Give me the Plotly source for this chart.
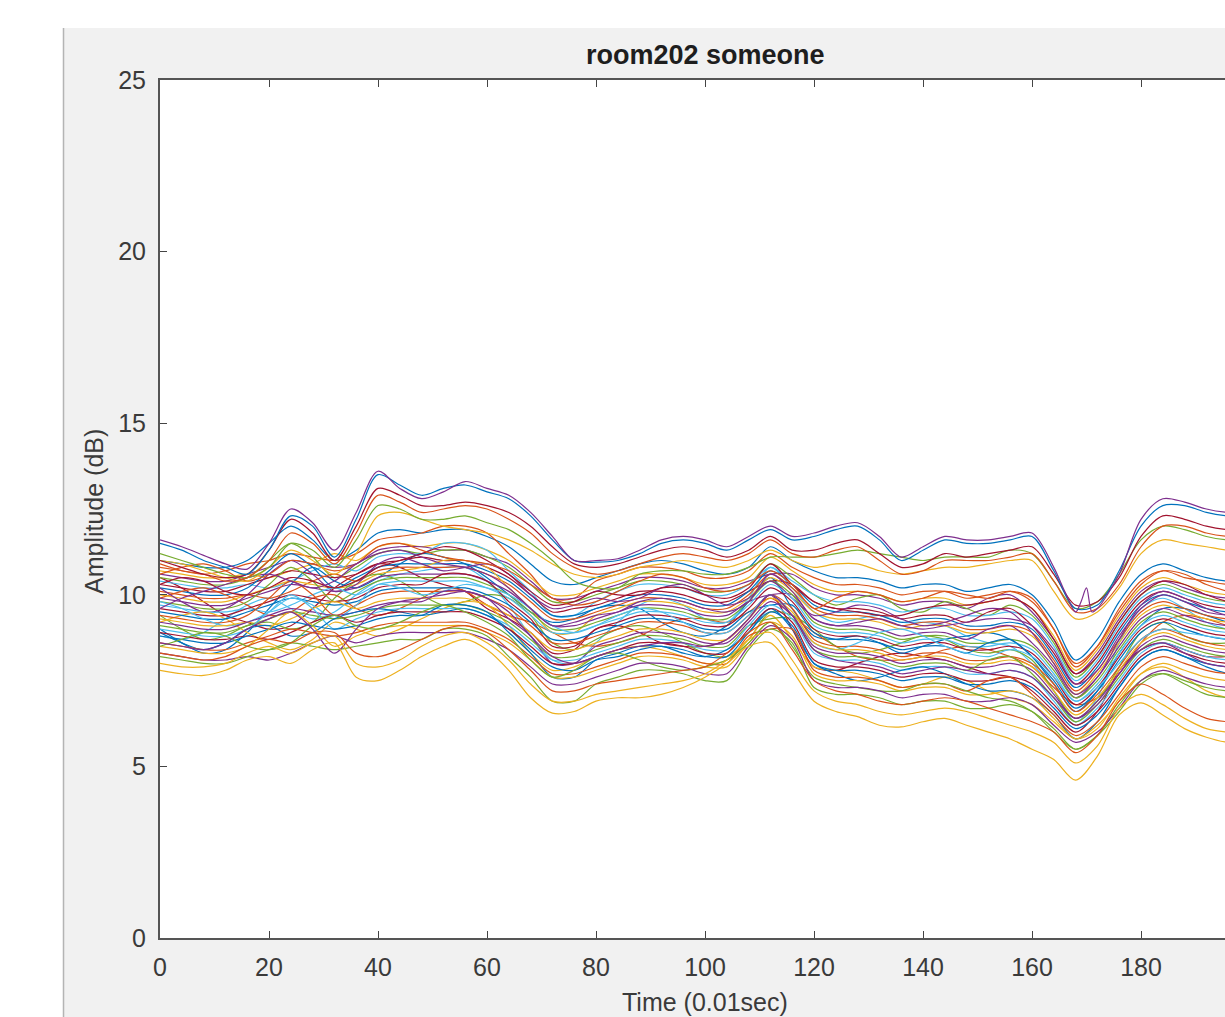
import plotly.graph_objects as go

# ---------------- data ----------------
time = list(range(0, 201, 4))  # 0.01 s units
time_purple = [0,4,8,12,16,20,24,28,32,36,40,44,48,52,56,60,64,68,72,76,80,84,88,92,96,100,
               104,108,112,116,120,124,128,132,136,140,144,148,152,156,160,164,166,168,169,170,
               171,172,176,180,184,188,192,196,200]

top_purple = [11.6,11.4,11.15,10.9,10.75,11.5,12.5,12.1,11.3,12.4, 13.6,13.1,12.8,13.0,13.3,13.1,12.9,12.4,11.7,11.0,
              11.0,11.05,11.3,11.6,11.7,11.6,11.4,11.7,12.0,11.7, 11.8,12.0,12.1,11.7,11.1,11.4,11.7,11.6,11.6,11.7,
              11.8,10.8,10.1,9.5,9.8,10.2,9.5,9.6,10.6,12.2,12.8,12.7,12.5,12.4,12.4]
top_blue = [11.5,11.3,11.0,10.8,10.6,11.3,12.3,12.0,11.1,12.2, 13.5,13.2,12.9,13.1,13.2,13.0,12.8,12.3,11.6,11.0,
            10.95,11.0,11.2,11.5,11.6,11.5,11.3,11.6,11.9,11.6, 11.7,11.9,12.0,11.6,11.0,11.3,11.6,11.5,11.5,11.6,
            11.7,10.7,9.6,9.7,10.7,12.0,12.6,12.6,12.4,12.3,12.3]
upper_red = [11.0,10.8,10.6,10.5,10.6,11.3,12.2,11.8,11.0,12.0, 13.1,12.9,12.6,12.6,12.7,12.6,12.4,12.0,11.4,10.9,
             10.8,10.9,11.1,11.3,11.4,11.3,11.1,11.3,11.7,11.3, 11.3,11.5,11.6,11.2,10.8,10.9,11.2,11.1,11.2,11.3,
             11.4,10.6,9.7,9.8,10.5,11.7,12.3,12.2,12.0,11.9,11.9]
upper_orange = [10.8,10.7,10.6,10.4,10.5,11.0,11.8,11.5,10.9,11.8, 12.9,12.7,12.4,12.5,12.6,12.5,12.2,11.8,11.2,10.8,
                10.6,10.7,10.9,11.1,11.2,11.1,11.0,11.2,11.6,11.2, 11.1,11.3,11.4,11.0,10.6,10.7,11.0,11.0,11.0,11.1,
                11.2,10.4,9.5,9.6,10.3,11.4,12.0,12.0,11.8,11.7,11.7]
upper_green = [11.2,11.0,10.8,10.6,10.5,10.8,11.5,11.3,10.8,11.6, 12.6,12.5,12.2,12.2,12.3,12.1,11.9,11.5,11.0,10.4,
               10.2,10.2,10.6,10.7,10.7,10.6,10.6,10.8,11.1,11.1, 11.1,11.2,11.3,11.2,11.1,11.0,11.1,11.1,11.1,11.3,
               11.2,10.4,9.6,9.8,10.6,11.6,12.0,11.9,11.7,11.6,11.6]
upper_yellow = [11.0,10.9,10.7,10.5,10.4,10.8,11.3,11.0,10.6,11.2, 12.3,12.4,12.2,12.0,11.9,11.8,11.6,11.3,10.9,10.6,
                10.5,10.6,10.8,10.9,11.0,10.9,10.8,11.0,11.3,11.0, 10.8,10.9,10.9,10.7,10.6,10.7,10.8,10.8,10.9,11.0,
                11.0,10.1,9.3,9.5,10.2,11.2,11.6,11.5,11.4,11.3,11.3]
low_yellow_1 = [7.8,7.7,7.65,7.8,8.1,8.2,8.0,8.4,8.6,7.6, 7.5,7.8,8.2,8.5,8.7,8.4,7.8,7.0,6.55,6.6,
                6.9,7.0,7.0,7.1,7.3,7.6,8.0,8.5,8.6,7.8, 6.9,6.6,6.45,6.2,6.15,6.3,6.4,6.2,6.0,5.8,
                5.5,5.2,4.6,5.3,6.5,6.85,6.5,6.1,5.85,5.7,5.7]
low_yellow_2 = [8.0,7.9,7.9,8.0,8.3,8.5,8.3,8.6,8.8,8.0, 7.9,8.1,8.5,8.8,8.9,8.6,8.1,7.4,6.9,6.9,
                7.1,7.2,7.3,7.4,7.5,7.7,8.1,8.7,8.9,8.1, 7.2,6.9,6.8,6.6,6.5,6.6,6.7,6.6,6.4,6.2,
                6.0,5.7,5.1,5.6,6.7,7.1,6.8,6.4,6.1,6.0,6.0]
low_orange = [8.3,8.2,8.1,8.2,8.5,8.7,8.6,8.9,8.9,8.3, 8.2,8.4,8.7,9.0,9.1,8.9,8.4,7.8,7.2,7.2,
              7.4,7.5,7.6,7.7,7.8,7.9,8.3,8.9,9.2,8.4, 7.5,7.2,7.1,6.9,6.8,6.9,7.0,6.9,6.7,6.5,
              6.3,6.0,5.4,5.9,6.9,7.4,7.1,6.7,6.4,6.3,6.3]
dip_purple = [8.6,8.5,8.4,8.6,9.0,9.3,9.5,9.0,8.3,9.0, 9.6,9.8,9.9,10.0,10.1,9.9,9.5,8.8,8.2,8.0,
              8.2,8.4,8.5,8.6,8.6,8.5,8.7,9.3,10.0,9.4, 8.4,8.1,8.0,7.9,7.7,7.8,7.9,7.8,7.7,7.8,
              7.6,7.0,6.4,6.8,7.7,8.4,8.6,8.3,8.0,7.9,7.9]

b01 = [11.0,10.9,10.8,10.8,11.0,11.5,12.0,11.6,11.0,11.3, 11.8,11.9,11.8,11.9,11.9,11.7,11.4,10.9,10.4,10.3, 10.5,10.7,10.9,11.0,10.9,10.7,10.6,10.8,11.4,11.0, 10.7,10.5,10.5,10.4,10.2,10.3,10.3,10.1,10.2,10.3, 10.0,9.2,8.1,8.7,9.8,10.6,10.9,10.7,10.5,10.4,10.4]
b02 = [10.9,10.7,10.6,10.7,10.9,11.0,11.2,11.1,11.0,11.2, 11.6,11.7,11.8,12.0,12.0,11.8,11.2,10.6,9.9,9.9, 10.4,10.6,10.8,10.8,10.7,10.5,10.5,10.7,11.2,10.8, 10.5,10.3,10.3,10.2,10.0,10.1,10.1,9.9,10.0,10.1, 9.8,9.0,7.9,8.5,9.6,10.4,10.7,10.5,10.4,10.3,10.3]
b03 = [10.7,10.6,10.5,10.5,10.6,10.5,10.7,10.9,11.2,11.0, 11.4,11.5,11.4,11.5,11.5,11.3,11.0,10.5,10.0,10.0, 10.2,10.4,10.6,10.6,10.5,10.3,10.3,10.5,11.1,10.7, 10.3,10.1,10.1,10.0,9.8,9.9,9.9,9.7,9.8,9.9, 9.6,8.8,7.8,8.4,9.4,10.2,10.5,10.3,10.1,10.0,10.0]
b04 = [10.6,10.5,10.4,10.4,10.6,10.8,11.0,10.9,10.8,10.9, 11.3,11.4,11.4,11.3,11.3,11.1,10.9,10.4,9.9,9.9, 10.1,10.3,10.5,10.5,10.4,10.2,10.2,10.4,10.6,10.6, 10.2,10.0,10.0,9.9,9.7,9.8,9.8,9.6,9.9,10.0, 9.5,8.7,7.7,8.3,9.3,10.1,10.4,10.2,10.0,9.9,9.9]
b05 = [10.5,10.4,10.3,10.3,10.5,11.0,11.5,11.1,10.5,10.8, 11.2,11.3,11.2,11.3,11.3,11.1,10.8,10.3,9.8,9.8, 10.0,10.2,10.4,10.4,10.3,10.1,10.1,10.3,10.9,10.5, 10.0,9.7,9.9,10.0,9.6,9.5,9.8,9.6,9.4,9.7, 9.4,8.6,7.6,8.2,9.2,10.0,10.3,10.1,9.9,9.8,9.8]
b06 = [10.4,10.3,10.2,10.2,10.3,10.2,10.4,10.7,10.9,10.7, 11.1,11.2,11.2,11.5,11.5,11.3,10.7,10.1,9.4,9.4, 9.8,10.1,10.3,10.3,10.2,10.0,10.0,10.3,10.8,10.4, 10.0,9.8,9.8,9.7,9.5,9.6,9.6,9.4,9.4,9.5, 9.3,8.5,7.5,8.1,9.1,9.9,10.2,10.0,9.8,9.7,9.7]
b07 = [10.3,10.2,10.1,10.1,10.3,10.5,10.7,10.6,10.5,10.6, 10.9,11.0,11.1,11.0,11.0,10.8,10.5,10.0,9.5,9.6, 9.7,9.9,10.1,10.1,10.0,9.8,9.8,10.1,10.4,10.3, 9.8,9.6,9.6,9.5,9.3,9.4,9.4,9.2,9.5,9.6, 9.1,8.3,7.4,8.0,9.0,9.8,10.1,9.9,9.7,9.6,9.6]
b08 = [10.2,10.1,10.0,10.0,10.2,10.7,11.2,10.8,10.2,10.5, 10.8,10.9,10.9,10.9,10.9,10.7,10.4,9.9,9.4,9.4, 9.6,9.8,10.0,10.0,9.9,9.7,9.7,10.1,10.7,10.3, 9.7,9.5,9.5,9.4,9.2,9.3,9.3,9.1,9.1,9.2, 9.0,8.2,7.3,7.9,8.9,9.7,10.0,9.8,9.6,9.5,9.5]
b09 = [10.1,10.0,9.9,9.9,10.0,9.9,10.1,10.4,10.6,10.4, 10.7,10.8,10.8,10.8,10.8,10.6,10.3,9.8,9.3,9.3, 9.5,9.7,9.9,9.9,9.8,9.6,9.6,10.0,10.6,10.2, 9.6,9.4,9.4,9.3,9.1,9.2,9.2,9.0,9.0,9.1, 8.9,8.1,7.2,7.8,8.7,9.5,9.8,9.6,9.4,9.3,9.3]
b10 = [10.0,9.9,9.8,9.8,10.0,10.2,10.4,10.3,10.2,10.3, 10.6,10.7,10.8,11.0,11.0,10.8,10.2,9.6,8.9,8.9, 9.4,9.6,9.8,9.8,9.7,9.5,9.5,9.9,10.5,10.1, 9.5,9.3,9.3,9.2,9.0,9.1,9.1,8.9,8.9,9.0, 8.8,8.0,7.1,7.7,8.6,9.4,9.7,9.5,9.3,9.2,9.2]
b11 = [9.9,9.8,9.7,9.7,9.9,10.1,10.3,10.2,10.1,10.2, 10.5,10.6,10.6,10.6,10.6,10.4,10.1,9.6,9.1,9.1, 9.3,9.5,9.7,9.7,9.6,9.4,9.4,9.8,10.0,10.0, 9.3,9.1,9.1,9.0,8.8,8.9,8.9,8.7,9.0,9.1, 8.6,7.9,7.0,7.6,8.5,9.3,9.6,9.4,9.2,9.1,9.1]
b12 = [9.8,9.7,9.6,9.6,9.8,10.3,10.8,10.4,9.8,10.1, 10.4,10.5,10.5,10.5,10.5,10.3,10.0,9.5,9.0,9.0, 9.2,9.4,9.6,9.6,9.5,9.3,9.3,9.8,10.4,10.0, 9.2,9.0,9.0,8.9,8.7,8.8,8.8,8.6,8.6,8.7, 8.5,7.8,7.0,7.5,8.4,9.2,9.5,9.3,9.1,9.0,9.0]
b13 = [9.7,9.6,9.5,9.5,9.6,9.5,9.7,10.0,10.2,10.0, 10.3,10.4,10.4,10.4,10.4,10.2,9.9,9.4,8.9,8.9, 9.1,9.3,9.5,9.5,9.4,9.2,9.2,9.7,10.3,9.9, 9.1,8.9,8.9,8.8,8.6,8.7,8.7,8.5,8.5,8.6, 8.4,7.7,6.9,7.4,8.3,9.1,9.4,9.2,9.0,8.9,8.9]
b14 = [9.6,9.5,9.4,9.4,9.6,9.8,10.0,9.9,9.8,9.9, 10.2,10.3,10.3,10.6,10.6,10.4,9.8,9.3,8.5,8.5, 9.0,9.2,9.4,9.4,9.3,9.1,9.1,9.6,10.2,9.8, 9.0,8.8,8.8,8.7,8.5,8.6,8.6,8.4,8.4,8.5, 8.3,7.6,6.8,7.3,8.2,9.0,9.3,9.1,8.9,8.8,8.8]
b15 = [9.5,9.4,9.3,9.3,9.5,9.7,9.9,9.8,9.7,9.8, 10.1,10.2,10.2,10.2,10.2,10.0,9.7,9.2,8.7,8.7, 8.9,9.1,9.3,9.3,9.2,9.0,9.0,9.5,9.7,9.7, 8.9,8.7,8.7,8.6,8.4,8.5,8.5,8.3,8.6,8.7, 8.2,7.5,6.7,7.2,8.1,8.9,9.2,9.0,8.8,8.7,8.7]
b16 = [9.4,9.3,9.2,9.2,9.4,9.9,10.4,10.0,9.4,9.7, 10.0,10.1,10.1,10.1,10.1,9.9,9.6,9.1,8.6,8.6, 8.8,9.0,9.2,9.2,9.1,8.9,8.9,9.4,10.0,9.6, 8.7,8.5,8.5,8.4,8.2,8.3,8.3,8.1,8.1,8.2, 8.0,7.4,6.6,7.1,7.9,8.7,9.0,8.8,8.6,8.5,8.5]
b17 = [9.3,9.2,9.1,9.1,9.2,9.1,9.3,9.6,9.8,9.6, 9.8,9.9,9.9,9.9,9.9,9.7,9.4,8.9,8.4,8.4, 8.6,8.8,9.0,9.0,8.9,8.7,8.7,9.3,9.9,9.5, 8.6,8.4,8.4,8.3,8.1,8.2,8.2,8.0,8.0,8.1, 7.9,7.2,6.5,7.0,7.8,8.6,8.9,8.7,8.5,8.4,8.4]
b18 = [9.2,9.1,9.0,9.0,9.2,9.4,9.6,9.5,9.4,9.5, 9.7,9.8,9.8,10.1,10.1,9.9,9.3,8.8,8.0,8.0, 8.5,8.7,8.9,8.9,8.8,8.6,8.6,9.2,9.8,9.4, 8.5,8.3,8.3,8.2,8.0,8.1,8.1,7.9,7.9,8.0, 7.8,7.1,6.4,6.9,7.7,8.5,8.8,8.6,8.4,8.3,8.3]
b19 = [9.1,9.0,8.9,8.9,9.1,9.3,9.5,9.4,9.3,9.4, 9.6,9.7,9.7,9.7,9.7,9.5,9.2,8.7,8.2,8.2, 8.4,8.6,8.8,8.8,8.7,8.5,8.5,9.1,9.3,9.3, 8.4,8.2,8.2,8.1,7.9,8.0,8.0,7.8,8.1,8.2, 7.7,7.0,6.3,6.8,7.6,8.4,8.7,8.5,8.3,8.2,8.2]
b20 = [9.0,8.9,8.8,8.8,9.0,9.5,10.0,9.6,9.0,9.3, 9.5,9.6,9.6,9.6,9.6,9.4,9.1,8.6,8.1,8.1, 8.3,8.5,8.7,8.7,8.6,8.4,8.4,9.1,9.7,9.3, 8.3,8.1,8.1,8.0,7.8,7.9,7.9,7.7,7.7,7.8, 7.6,6.9,6.2,6.7,7.5,8.3,8.6,8.4,8.2,8.1,8.1]
b21 = [8.9,8.8,8.7,8.7,8.8,8.7,8.9,9.2,9.4,9.2, 9.4,9.5,9.5,9.5,9.5,9.3,9.0,8.5,8.0,8.0, 8.2,8.4,8.6,8.6,8.5,8.3,8.3,9.0,9.6,9.2, 8.1,7.9,7.9,7.8,7.6,7.7,7.7,7.5,7.5,7.6, 7.4,6.8,6.2,6.6,7.4,8.2,8.5,8.3,8.1,8.0,8.0]
b22 = [8.8,8.7,8.6,8.6,8.8,9.0,9.2,9.1,9.0,9.1, 9.3,9.4,9.4,9.7,9.7,9.5,8.9,8.3,7.6,7.6, 8.1,8.3,8.5,8.5,8.4,8.2,8.2,8.9,9.5,9.1, 8.0,7.8,7.8,7.7,7.5,7.6,7.6,7.4,7.4,7.5, 7.3,6.7,6.1,6.5,7.3,8.1,8.4,8.2,8.0,7.9,7.9]
b23 = [8.6,8.5,8.4,8.4,8.6,8.8,9.0,8.9,8.8,8.9, 9.1,9.2,9.2,9.2,9.2,9.0,8.7,8.2,7.7,7.7, 7.9,8.1,8.3,8.3,8.2,8.0,8.0,8.8,9.0,9.0, 7.8,7.6,7.6,7.5,7.3,7.4,7.4,7.2,7.5,7.6, 7.1,6.5,5.9,6.3,7.1,7.9,8.2,8.0,7.8,7.7,7.7]
b24 = [8.5,8.4,8.3,8.3,8.5,9.0,9.5,9.1,8.5,8.8, 9.0,9.1,9.1,9.1,9.1,8.9,8.6,8.1,7.6,7.6, 7.8,8.0,8.2,8.2,8.1,7.9,7.9,8.6,9.2,8.8, 7.7,7.5,7.5,7.4,7.2,7.3,7.3,7.1,7.1,7.2, 7.0,6.4,5.8,6.2,6.9,7.7,8.0,7.8,7.6,7.5,7.5]
b25 = [8.3,8.2,8.1,8.1,8.2,8.1,8.3,8.6,8.8,8.6, 8.8,8.9,8.9,8.9,8.9,8.7,8.4,7.9,7.4,7.4, 7.6,7.8,8.0,8.0,7.9,7.7,7.7,8.5,9.1,8.7, 7.5,7.3,7.3,7.2,7.0,7.1,7.1,6.9,6.9,7.0, 6.8,6.2,5.7,6.0,6.7,7.5,7.8,7.6,7.4,7.3,7.3]
b26 = [8.2,8.1,8.0,8.0,8.2,8.4,8.6,8.5,8.4,8.5, 8.6,8.7,8.7,9.0,9.0,8.8,8.2,7.6,6.9,6.9, 7.4,7.6,7.8,7.8,7.7,7.5,7.5,8.4,9.0,8.6, 7.3,7.1,7.1,7.0,6.8,6.9,6.9,6.7,6.7,6.8, 6.6,6.1,5.5,5.9,6.6,7.4,7.7,7.5,7.3,7.2,7.2]

x01 = [8.8,8.7,8.9,9.3,9.7,9.9,9.6,9.3,9.5,10.0, 10.4,10.6,10.7,10.8,10.8,10.4,9.7,8.8,8.1,8.0, 8.6,9.2,9.7,9.9,9.7,9.3,9.2,9.9,10.8,10.2, 9.5,9.2,9.3,9.4,9.2,9.2,9.1,8.8,8.6,8.5, 8.0,7.2,6.3,7.0,8.6,9.6,9.9,9.6,9.2,9.0,9.0]
x02 = [10.5,10.2,9.8,9.4,9.2,9.0,9.1,9.6,10.2,10.6, 10.9,10.8,10.5,10.3,10.1,9.6,9.3,8.9,8.3,8.4, 9.0,9.1,8.9,8.6,8.5,8.5,8.7,9.3,10.0,9.0, 7.9,7.8,8.0,8.2,8.3,8.2,8.1,7.9,7.7,7.6, 7.2,6.6,6.0,6.6,7.8,8.4,8.6,8.4,8.2,8.2,8.2]
x03 = [9.0,8.6,8.3,8.4,8.9,9.6,10.3,10.8,10.4,10.2, 10.5,10.9,11.2,11.1,10.9,10.5,10.0,9.5,9.2,9.3, 9.6,9.7,9.6,9.2,8.9,8.8,9.1,9.8,10.5,9.6, 8.8,8.7,8.8,8.6,8.3,8.5,8.7,8.8,8.9,8.7, 8.2,7.4,6.6,7.2,8.3,9.1,9.6,9.6,9.4,9.2,9.1]
x04 = [9.9,10.1,10.2,10.0,9.7,9.4,9.5,9.9,10.0,9.6, 9.4,9.6,9.9,10.2,10.1,9.7,9.4,9.2,8.9,8.6, 8.5,8.6,8.8,9.1,9.3,9.3,9.2,9.5,9.9,9.4, 8.9,8.5,8.2,8.1,8.1,8.2,8.4,8.5,8.4,8.2, 7.9,7.3,6.8,7.0,7.7,8.6,9.2,9.4,9.3,9.1,9.0]
x05 = [9.4,9.0,8.7,8.8,9.1,9.2,9.0,9.2,9.9,10.4, 10.6,10.4,10.0,9.7,9.8,10.0,9.9,9.4,8.6,8.4, 8.7,9.0,9.1,8.9,8.6,8.3,8.2,8.7,9.5,9.4, 9.0,8.5,8.3,8.4,8.6,8.8,8.7,8.4,8.3,8.4, 8.1,7.2,6.4,6.9,7.9,8.9,9.2,8.8,8.6,8.6,8.7]
x06 = [10.2,9.8,9.5,9.6,10.0,10.6,11.0,10.6,10.1,10.3, 10.9,11.1,10.9,10.7,10.8,10.9,10.6,10.0,9.6,9.7, 9.9,9.8,9.9,10.2,10.3,10.0,9.7,9.9,10.4,9.9, 9.4,9.5,9.7,9.6,9.3,9.1,9.2,9.4,9.6,9.5, 8.9,8.0,7.1,7.6,8.7,9.7,10.1,9.9,9.6,9.4,9.4]
x07 = [9.2,9.4,9.5,9.3,8.9,8.6,8.4,8.7,9.2,9.0, 8.8,9.0,9.3,9.6,9.8,9.7,9.1,8.3,7.8,7.9, 8.2,8.4,8.5,8.4,8.2,8.0,8.1,8.7,9.4,8.7, 7.9,7.8,7.7,7.5,7.3,7.4,7.6,7.5,7.2,7.0, 6.8,6.3,5.8,6.1,7.0,7.7,7.9,7.6,7.2,7.0,7.0]
x08 = [9.8,9.6,9.3,9.1,9.2,9.5,9.9,9.7,9.3,9.7, 10.3,10.2,10.0,10.1,10.3,10.2,10.0,9.6,9.1,8.9, 9.1,9.4,9.6,9.5,9.2,8.9,8.9,9.4,10.0,9.4, 8.6,8.4,8.6,8.9,9.0,8.8,8.5,8.3,8.2,8.4, 8.2,7.6,6.9,7.3,8.0,8.7,9.0,8.9,8.8,8.7,8.6]
x09 = [10.3,10.5,10.4,10.1,10.0,10.2,10.5,10.4,10.2,10.4, 10.8,11.0,11.2,11.4,11.3,11.0,10.6,10.1,9.7,9.8, 10.1,10.0,10.0,10.2,10.2,10.0,9.9,10.2,10.9,10.3, 9.8,9.6,9.5,9.4,9.4,9.6,9.7,9.7,9.8,9.9, 9.6,8.7,7.7,8.2,9.2,10.0,10.4,10.3,10.0,9.8,9.7]
x10 = [8.9,8.6,8.4,8.6,9.0,9.1,8.8,8.9,9.3,9.5, 9.6,9.5,9.4,9.5,9.6,9.4,9.0,8.4,7.9,7.8, 8.1,8.2,8.4,8.5,8.3,8.2,8.4,8.9,9.6,9.0, 8.0,7.7,7.5,7.6,7.8,7.9,7.7,7.4,7.2,7.2, 7.0,6.5,5.8,6.3,7.3,8.1,8.4,8.2,7.9,7.7,7.6]
x11 = [10.6,10.8,10.9,10.7,10.4,10.6,11.0,10.9,10.7,10.9, 11.4,11.5,11.3,11.1,11.0,10.9,10.7,10.3,9.9,9.7, 9.8,10.1,10.4,10.6,10.5,10.2,10.1,10.3,10.7,10.3, 9.6,9.9,10.1,10.0,9.8,9.9,10.1,10.0,9.9,10.1, 9.9,9.0,8.0,8.5,9.5,10.3,10.7,10.6,10.3,10.1,10.0]
x12 = [8.5,8.7,8.9,8.8,8.5,8.4,8.6,9.1,9.4,9.1, 9.0,9.2,9.5,9.7,9.5,9.2,8.8,8.1,7.6,7.8, 8.2,8.3,8.1,7.9,7.8,7.9,8.1,8.6,9.2,8.5, 7.6,7.4,7.3,7.2,7.2,7.4,7.4,7.2,7.0,6.9, 6.6,6.0,5.5,5.9,6.8,7.5,7.7,7.4,7.1,7.0,6.9]
x13 = [9.6,9.9,10.1,10.3,10.5,10.6,10.4,10.2,10.4,10.9, 11.2,11.3,11.1,10.9,10.8,10.6,10.2,9.6,9.1,9.2, 9.4,9.5,9.8,9.9,9.8,9.6,9.5,9.8,10.6,10.1, 9.3,9.1,9.2,9.3,9.1,9.0,9.1,9.2,9.3,9.3, 9.1,8.4,7.4,7.8,8.8,9.6,10.0,9.8,9.5,9.4,9.3]
x14 = [10.1,9.9,9.6,9.5,9.7,10.1,10.3,10.1,9.7,9.9, 10.1,10.0,9.8,9.8,10.0,10.0,9.6,9.0,8.6,8.6, 8.8,8.9,9.1,9.2,9.0,8.7,8.6,9.2,9.9,9.3, 8.4,8.1,8.0,8.1,8.0,7.9,8.0,7.9,7.8,7.9, 7.7,7.0,6.3,6.8,7.8,8.5,8.8,8.6,8.4,8.3,8.2]

x_ticks = [0, 20, 40, 60, 80, 100, 120, 140, 160, 180]
y_ticks = [0, 5, 10, 15, 20, 25]

# ---------------- styling ----------------
BLUE, ORANGE, YELLOW, PURPLE, GREEN, CYAN, RED = (
    "#0072BD", "#D95319", "#EDB120", "#7E2F8E", "#77AC30", "#4DBEEE", "#A2142F")
cycle = [BLUE, ORANGE, YELLOW, PURPLE, GREEN, CYAN, RED]

bulk = [b01, b02, b03, b04, b05, b06, b07, b08, b09, b10, b11, b12, b13,
        b14, b15, b16, b17, b18, b19, b20, b21, b22, b23, b24, b25, b26]
extra = [(x01, CYAN), (x02, RED), (x03, BLUE), (x04, ORANGE), (x05, GREEN),
         (x06, PURPLE), (x07, YELLOW), (x08, CYAN), (x09, RED), (x10, BLUE),
         (x11, ORANGE), (x12, GREEN), (x13, PURPLE), (x14, YELLOW)]

series = []
for i, v in enumerate(bulk):
    series.append((time, v, cycle[i % 7]))
    if i % 2 == 1 and i // 2 < len(extra):
        ev, ec = extra[i // 2]
        series.append((time, ev, ec))
series += [(time, dip_purple, PURPLE), (time, low_orange, ORANGE), (time, low_yellow_2, YELLOW),
           (time, low_yellow_1, YELLOW), (time, upper_yellow, YELLOW), (time, upper_green, GREEN),
           (time, upper_orange, ORANGE), (time, upper_red, RED), (time, top_blue, BLUE),
           (time_purple, top_purple, PURPLE)]

fig = go.Figure()
for xs, vals, col in series:
    fig.add_trace(go.Scatter(x=xs, y=vals, mode="lines",
                             line=dict(color=col, width=1.2, shape="spline", smoothing=0.9),
                             hoverinfo="skip", showlegend=False))

W, H = 1225, 1017
PL, PR, PT, PB = 160, 1225, 80, 938   # plot area in pixels
pw, ph = PR - PL, PB - PT

def fx(px):
    return (px - PL) / pw

def fy(py):
    return (PB - py) / ph

FONT = "Liberation Sans, Arial, Helvetica, sans-serif"
AX = "#555555"

fig.update_layout(
    width=W, height=H,
    margin=dict(l=PL, r=W - PR, t=PT, b=H - PB, pad=0),
    paper_bgcolor="#f1f1f1", plot_bgcolor="#ffffff",
    showlegend=False,
    font=dict(family=FONT, size=25, color="#363636"),
    xaxis=dict(range=[0, pw / 5.45], tickvals=x_ticks, ticks="inside", ticklen=7,
               tickwidth=1.2, tickcolor="#444", showline=True, linecolor=AX, linewidth=2,
               mirror="ticks", showgrid=False, zeroline=False, ticklabelstandoff=6,
               tickfont=dict(size=25, color="#3a3a3a")),
    yaxis=dict(range=[0, 25], tickvals=y_ticks, ticks="inside", ticklen=7,
               tickwidth=1.2, tickcolor="#444", showline=True, linecolor=AX, linewidth=2,
               mirror=False, showgrid=False, zeroline=False, ticklabelstandoff=7,
               tickfont=dict(size=25, color="#3a3a3a")),
    shapes=[
        dict(type="rect", xref="paper", yref="paper", x0=fx(0), x1=fx(63), y0=fy(H), y1=fy(0),
             fillcolor="white", line=dict(width=0), layer="below"),
        dict(type="rect", xref="paper", yref="paper", x0=fx(0), x1=fx(W), y0=fy(28), y1=fy(0),
             fillcolor="white", line=dict(width=0), layer="below"),
        dict(type="line", xref="paper", yref="paper", x0=fx(63.5), x1=fx(63.5), y0=fy(28), y1=fy(H),
             line=dict(color="#b4b4b4", width=1.5), layer="below"),
    ],
    annotations=[
        dict(text="<b>room202 someone</b>", xref="paper", yref="paper", x=fx(705), y=fy(55),
             xanchor="center", yanchor="middle", showarrow=False,
             font=dict(family=FONT, size=27, color="#1e1e1e")),
        dict(text="Time (0.01sec)", xref="paper", yref="paper", x=fx(705), y=fy(1002),
             xanchor="center", yanchor="middle", showarrow=False,
             font=dict(family=FONT, size=25, color="#3a3a3a")),
        dict(text="Amplitude (dB)", xref="paper", yref="paper", x=fx(94), y=fy(512),
             xanchor="center", yanchor="middle", showarrow=False, textangle=-90,
             font=dict(family=FONT, size=25, color="#3a3a3a")),
    ],
)

fig.write_html("out.html", config={"displayModeBar": False},
               post_script="document.body.style.margin='0';document.body.style.overflow='hidden';")
